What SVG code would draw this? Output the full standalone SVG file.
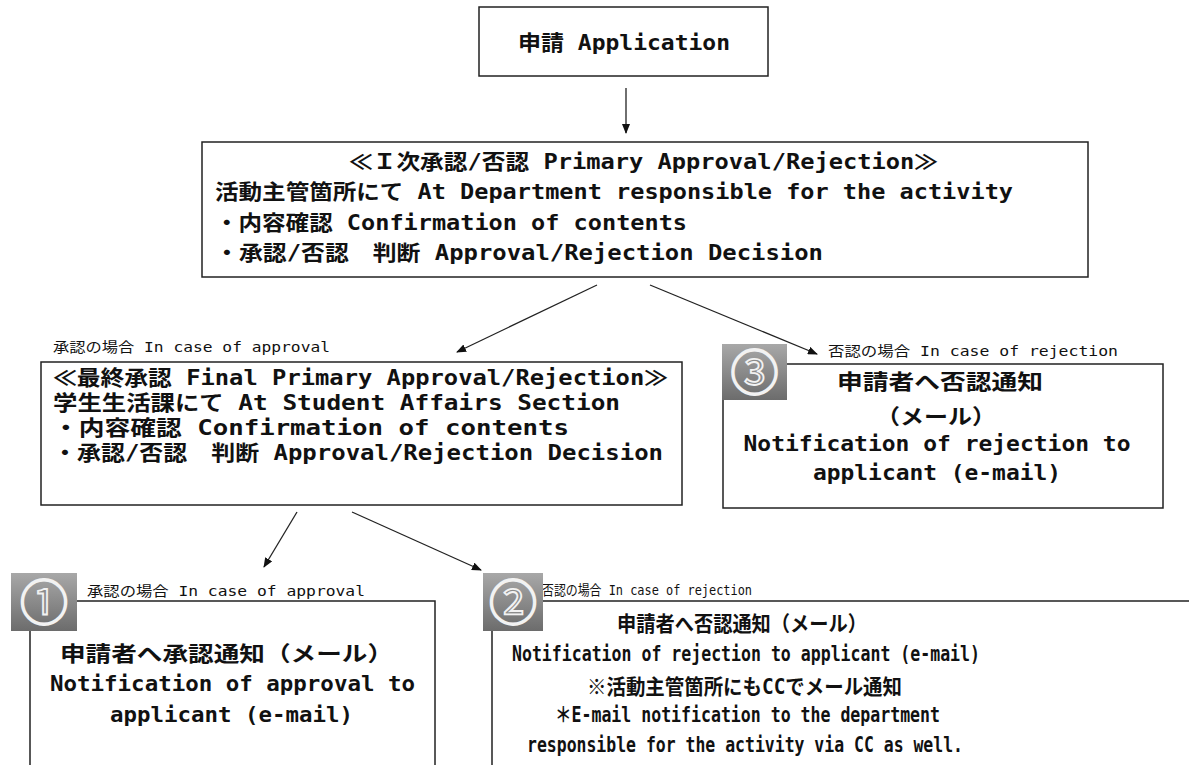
<svg xmlns="http://www.w3.org/2000/svg" width="1189" height="765" viewBox="0 0 1189 765">
<defs>
<linearGradient id="bg" x1="0" y1="0" x2="0" y2="1">
<stop offset="0" stop-color="#a8a8a8"/>
<stop offset="1" stop-color="#6c6c6c"/>
</linearGradient>
<marker id="ah" markerWidth="10" markerHeight="8" refX="9" refY="4" orient="auto" markerUnits="userSpaceOnUse">
<path d="M0,0 L10,4 L0,8 Z" fill="#111"/>
</marker>
<style>
.box{fill:#fff;stroke:#222;stroke-width:1.5}
.t{font-family:"DejaVu Sans Mono","Noto Sans CJK JP",monospace;font-weight:bold;font-size:21px;fill:#111}
.m{text-anchor:middle}
.lb{font-family:"DejaVu Sans Mono","Noto Sans CJK JP",monospace;font-size:14px;fill:#111}
.badge{fill:url(#bg)}
.num{font-family:"Noto Sans CJK JP",sans-serif;font-size:48px;fill:#8c8c8c;stroke:#f2f2f2;stroke-width:1.8;text-anchor:middle}
.c{fill:none;stroke:#222;stroke-width:1.3}
</style>
</defs>
<rect width="1189" height="765" fill="#fff"/>

<g id="connectors">
<line class="c" x1="626" y1="88" x2="626" y2="133" marker-end="url(#ah)"/>
<line class="c" x1="597" y1="285" x2="457" y2="352" marker-end="url(#ah)"/>
<line class="c" x1="650" y1="285" x2="817" y2="354" marker-end="url(#ah)"/>
<line class="c" x1="297" y1="512" x2="264" y2="567" marker-end="url(#ah)"/>
<line class="c" x1="352" y1="512" x2="481" y2="570" marker-end="url(#ah)"/>
</g>

<g id="application">
<rect class="box" x="479" y="7" width="289" height="69"/>
<text class="t m" x="624" y="50" textLength="212" lengthAdjust="spacingAndGlyphs">申請 Application</text>
</g>

<g id="primary">
<rect class="box" x="202" y="142" width="886" height="135"/>
<text class="t m" x="643.5" y="169" textLength="589" lengthAdjust="spacingAndGlyphs">≪Ｉ次承認/否認 Primary Approval/Rejection≫</text>
<text class="t" x="215" y="199" textLength="798" lengthAdjust="spacingAndGlyphs">活動主管箇所にて At Department responsible for the activity</text>
<text class="t" x="215" y="230" textLength="472" lengthAdjust="spacingAndGlyphs">・内容確認 Confirmation of contents</text>
<text class="t" x="215" y="260" textLength="608" lengthAdjust="spacingAndGlyphs">・承認/否認　判断 Approval/Rejection Decision</text>
</g>

<g id="final">
<text class="lb" x="53" y="352" textLength="277" lengthAdjust="spacingAndGlyphs">承認の場合 In case of approval</text>
<rect class="box" x="41" y="362" width="641" height="143"/>
<text class="t" x="53" y="385" textLength="615" lengthAdjust="spacingAndGlyphs">≪最終承認 Final Primary Approval/Rejection≫</text>
<text class="t" x="53" y="410" textLength="567" lengthAdjust="spacingAndGlyphs">学生生活課にて At Student Affairs Section</text>
<text class="t" x="53" y="435" textLength="516" lengthAdjust="spacingAndGlyphs">・内容確認 Confirmation of contents</text>
<text class="t" x="53" y="460" textLength="610" lengthAdjust="spacingAndGlyphs">・承認/否認　判断 Approval/Rejection Decision</text>
</g>

<g id="rejection1">
<text class="lb" x="828" y="356" textLength="290" lengthAdjust="spacingAndGlyphs">否認の場合 In case of rejection</text>
<rect class="box" x="723" y="364" width="440" height="144"/>
<rect class="badge" x="722" y="344" width="65" height="56"/>
<text class="num" x="754.5" y="390">③</text>
<text class="t m" x="940" y="389" textLength="206" lengthAdjust="spacingAndGlyphs">申請者へ否認通知</text>
<text class="t m" x="936" y="424" textLength="120" lengthAdjust="spacingAndGlyphs">（メール）</text>
<text class="t m" x="937" y="451" textLength="387" lengthAdjust="spacingAndGlyphs">Notification of rejection to</text>
<text class="t m" x="937" y="480" textLength="248" lengthAdjust="spacingAndGlyphs">applicant (e-mail)</text>
</g>

<g id="approval">
<text class="lb" x="87" y="596" textLength="278" lengthAdjust="spacingAndGlyphs">承認の場合 In case of approval</text>
<rect class="box" x="30" y="601" width="405" height="200"/>
<rect class="badge" x="11" y="573" width="66" height="58"/>
<text class="num" x="44" y="620">①</text>
<text class="t m" x="226.5" y="661" textLength="333" lengthAdjust="spacingAndGlyphs">申請者へ承認通知（メール）</text>
<text class="t m" x="232.5" y="691" textLength="365" lengthAdjust="spacingAndGlyphs">Notification of approval to</text>
<text class="t m" x="231.5" y="722" textLength="243" lengthAdjust="spacingAndGlyphs">applicant (e-mail)</text>
</g>

<g id="rejection2">
<text class="lb" x="542" y="595" textLength="210" lengthAdjust="spacingAndGlyphs">否認の場合 In case of rejection</text>
<rect class="box" x="492" y="601" width="720" height="200"/>
<rect class="badge" x="483" y="573" width="60" height="58"/>
<text class="num" x="513" y="620">②</text>
<text class="t m" x="742" y="631" textLength="250" lengthAdjust="spacingAndGlyphs">申請者へ否認通知（メール）</text>
<text class="t m" x="746" y="661" textLength="468" lengthAdjust="spacingAndGlyphs">Notification of rejection to applicant (e-mail)</text>
<text class="t m" x="744.5" y="694" textLength="315" lengthAdjust="spacingAndGlyphs">※活動主管箇所にもCCでメール通知</text>
<text class="t m" x="747.5" y="722" textLength="385" lengthAdjust="spacingAndGlyphs">＊E-mail notification to the department</text>
<text class="t m" x="745" y="752" textLength="436" lengthAdjust="spacingAndGlyphs">responsible for the activity via CC as well.</text>
</g>
</svg>
